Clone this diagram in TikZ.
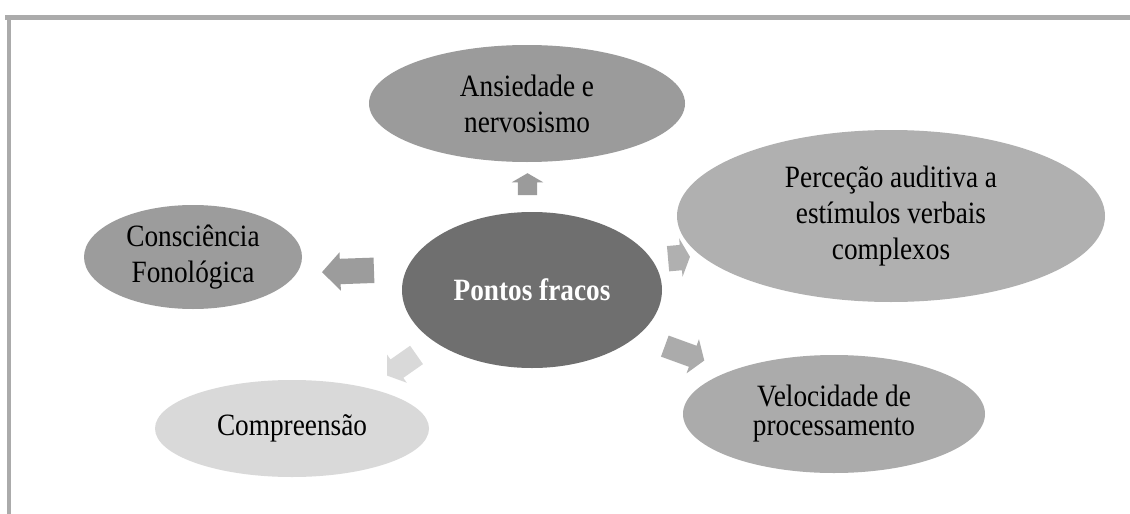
\documentclass[tikz,border=0pt]{standalone}
\usepackage{fontspec}
\setmainfont{Liberation Serif}[FakeStretch=0.88]
\usetikzlibrary{shapes.geometric,shapes.arrows}
\definecolor{framecol}{HTML}{ABABAB}
\definecolor{ccenter}{HTML}{6F6F6F}
\definecolor{ctop}{HTML}{9B9B9B}
\definecolor{cright}{HTML}{B0B0B0}
\definecolor{cleft}{HTML}{9C9C9C}
\definecolor{clight}{HTML}{D9D9D9}
\definecolor{cvel}{HTML}{ABABAB}
\tikzset{
  bubble/.style={ellipse, inner sep=0pt, align=center, text=black,
    font=\fontsize{31}{36}\selectfont},
  blockarrow/.style={single arrow, inner sep=0pt, single arrow head indent=0pt}
}
\begin{document}
\begin{tikzpicture}[x=1pt,y=-1pt]
\useasboundingbox (0,0) rectangle (1130,514);
\fill[white] (0,0) rectangle (1130,514);
\draw[framecol, line width=5pt] (5,17.5) -- (1130,17.5);
\draw[framecol, line width=4pt] (9,15) -- (9,514);

% block arrows
\node[blockarrow, fill=ctop, text height=9.5pt, text depth=9.5pt,
  single arrow head extend=6pt, single arrow tip angle=120,
  minimum height=22pt, rotate=90] (aup) at (527.5,187) {};
\node[blockarrow, fill=cleft, text height=12.5pt, text depth=12.5pt,
  single arrow head extend=6.5pt, single arrow tip angle=93,
  minimum height=52pt, rotate=182] (aleft) at (354,271) {};
\node[blockarrow, fill=cright, text height=12.5pt, text depth=12.5pt,
  single arrow head extend=6.5pt, single arrow tip angle=129,
  minimum height=22pt, rotate=5] (aright) at (676,258) {};
\node[blockarrow, fill=cvel, text height=11pt, text depth=11pt,
  single arrow head extend=7pt, single arrow tip angle=112,
  minimum height=42pt, rotate=-20] (adr) at (681,352) {};
\node[blockarrow, fill=clight, text height=11pt, text depth=11pt,
  single arrow head extend=6pt, single arrow tip angle=110,
  minimum height=36pt, rotate=215] (adl) at (405,363) {};

% ellipses
\node[bubble, fill=ccenter, text=white, minimum width=260pt, minimum height=156pt,
  font=\fontsize{31}{36}\selectfont\bfseries] (center) at (532,290) {Pontos fracos};
\node[bubble, fill=ctop, minimum width=316pt, minimum height=117pt]
  (ansiedade) at (527,103.5) {Ansiedade e\\nervosismo};
\node[bubble, fill=cright, minimum width=428pt, minimum height=172pt]
  (percecao) at (891,216) {Perceção auditiva a\\estímulos verbais\\complexos};
\node[bubble, fill=cleft, minimum width=218pt, minimum height=104pt]
  (consciencia) at (193,257) {Consciência\\Fonológica};
\node[bubble, fill=clight, minimum width=274pt, minimum height=97pt]
  (compreensao) at (292,428.5) {Compreensão};
\node[bubble, fill=cvel, minimum width=302pt, minimum height=118pt,
  font=\fontsize{31}{29}\selectfont]
  (velocidade) at (834,414) {Velocidade de\\processamento};
\end{tikzpicture}
\end{document}
